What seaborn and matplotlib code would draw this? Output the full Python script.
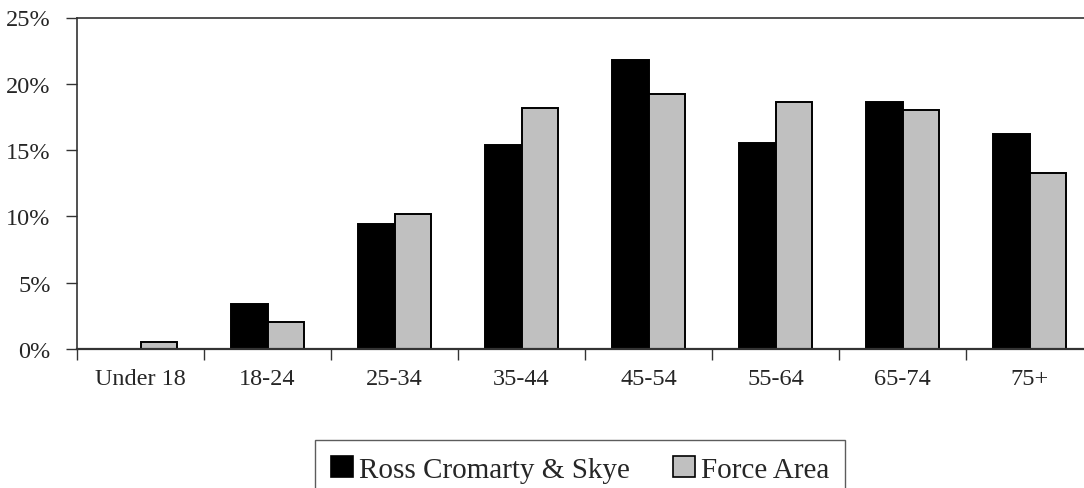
import numpy as np
import pandas as pd
import matplotlib
matplotlib.use('Agg')
import matplotlib.pyplot as plt
import seaborn as sns
from matplotlib.patches import Patch
from matplotlib.ticker import FixedLocator

# values (percent)
age_groups = ['Under 18', '18-24', '25-34', '35-44', '45-54', '55-64', '65-74', '75+']
ross_cromarty_skye = [0.0, 3.4, 9.4, 15.4, 21.8, 15.5, 18.6, 16.2]
force_area = [0.5, 2.0, 10.2, 18.2, 19.2, 18.6, 18.0, 13.3]
series_names = ['Ross Cromarty & Skye', 'Force Area']
y_ticks = [0, 5, 10, 15, 20, 25]

df = pd.DataFrame({
    'age': age_groups * 2,
    'pct': ross_cromarty_skye + force_area,
    'area': [series_names[0]] * len(age_groups) + [series_names[1]] * len(age_groups),
})

sns.set_style('white')
plt.rcParams['font.family'] = ['Liberation Serif', 'DejaVu Serif']

W, H = 1084, 489
fig = plt.figure(figsize=(W / 100, H / 100), dpi=100)
ax = fig.add_axes([77 / W, 139 / H, 1016 / W, 331.5 / H])

colors = ['#000000', '#c0c0c0']
sns.barplot(data=df, x='age', y='pct', hue='area', order=age_groups,
            hue_order=series_names, palette=colors, width=0.58,
            edgecolor='black', linewidth=1.4, legend=False, ax=ax)

ax.set_xlim(-0.5, len(age_groups) - 0.5)
ax.set_ylim(0, 25)
ax.set_xlabel('')
ax.set_ylabel('')

# Excel-like ticks: marks between categories, labels centred
ax.xaxis.set_major_locator(FixedLocator(np.arange(-0.5, len(age_groups), 1.0)))
ax.xaxis.set_minor_locator(FixedLocator(np.arange(len(age_groups))))
ax.set_xticklabels([])
ax.set_xticklabels(age_groups, minor=True)
ax.tick_params(axis='x', which='major', direction='out', length=8, width=1,
               color='#333333', bottom=True)
ax.tick_params(axis='x', which='minor', length=0, pad=14, labelsize=17.5)

ax.set_yticks(y_ticks)
ax.set_yticklabels([f'{v}%' for v in y_ticks])
ax.tick_params(axis='y', direction='out', length=8, width=1, color='#333333',
               left=True, pad=11, labelsize=17.5)

for side in ['left', 'bottom', 'top']:
    ax.spines[side].set_visible(True)
    ax.spines[side].set_color('#333333')
    ax.spines[side].set_linewidth(1.2)
ax.spines['bottom'].set_linewidth(1.6)
ax.spines['right'].set_visible(False)

handles = [Patch(facecolor=c, edgecolor='black', linewidth=1.2) for c in colors]
leg = fig.legend(handles, series_names, loc='upper center',
                 bbox_to_anchor=(580 / W, 1 - 441 / H), ncol=2, fontsize=21,
                 frameon=True, fancybox=False, handlelength=0.75, handleheight=0.75,
                 handletextpad=0.2, columnspacing=1.5, borderpad=0.55,
                 borderaxespad=0)
leg.get_frame().set_edgecolor('#333333')
leg.get_frame().set_linewidth(1.0)

fig.savefig('out.png', dpi=100)
